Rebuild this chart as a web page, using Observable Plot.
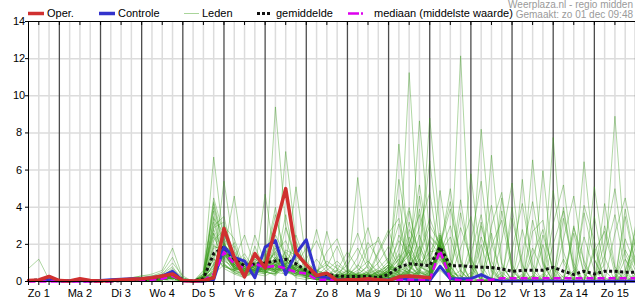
<!DOCTYPE html>
<html>
<head>
<meta charset="utf-8">
<script src="https://cdn.jsdelivr.net/npm/d3@7"></script>
<script src="https://cdn.jsdelivr.net/npm/@observablehq/plot@0.6"></script>
<style>
  html, body { margin: 0; padding: 0; background: #fff; overflow: hidden; }
  #wrap { position: relative; width: 635px; height: 300px; }
  #chart { position: absolute; left: 0; top: 0; }
  #legend { position: absolute; left: 0; top: 0; width: 635px; height: 19px; font: 11px "Liberation Sans", Arial, sans-serif; color: #000; }
  #legend span { position: absolute; white-space: nowrap; line-height: 11px; }
  #legend svg { position: absolute; top: 0; left: 0; }
  #legend .src { font-size: 10px; line-height: 10px; color: #9a9a9a; right: 2px; }
</style>
</head>
<body>
<div id="wrap">
<div id="chart"></div>
<div id="legend">
  <svg width="635" height="19">
    <line x1="28" y1="13.5" x2="44" y2="13.5" stroke="#d03030" stroke-width="3.5"/>
    <line x1="99" y1="13.5" x2="115" y2="13.5" stroke="#3333cc" stroke-width="3.5"/>
    <line x1="184" y1="13.5" x2="199" y2="13.5" stroke="#a9d59a" stroke-width="1"/>
    <line x1="257" y1="13.5" x2="272" y2="13.5" stroke="#111" stroke-width="3" stroke-dasharray="3,2"/>
    <line x1="348" y1="13.5" x2="365" y2="13.5" stroke="#dd00ee" stroke-width="2.5" stroke-dasharray="11,2,2,2"/>
  </svg>
  <span style="left:47px;top:8px">Oper.</span>
  <span style="left:118px;top:8px">Controle</span>
  <span style="left:202px;top:8px">Leden</span>
  <span style="left:276px;top:8px">gemiddelde</span>
  <span style="left:374px;top:8px">mediaan (middelste waarde)</span>
  <span class="src" style="top:0px">Weerplaza.nl - regio midden</span>
  <span class="src" style="top:10px">Gemaakt: zo 01 dec 09:48</span>
</div>
</div>
<script>
// ---- data (mm per 6 uur, stappen van 6 uur vanaf zo 1 dec 06:00) ----
const dayLabels = ["Zo 1","Ma 2","Di 3","Wo 4","Do 5","Vr 6","Za 7","Zo 8","Ma 9","Di 10","Wo 11","Do 12","Vr 13","Za 14","Zo 15"];
const yTicks = [0, 2, 4, 6, 8, 10, 12, 14];

const oper = [0.05,0.08,0.27,0.05,0.03,0.15,0.05,0.03,0.05,0.1,
  0.12,0.15,0.2,0.3,0.4,0.05,0.03,0.05,0.2,2.85,
  1.3,0.25,1.5,0.73,2.9,5.0,1.55,0.9,0.32,0.45,
  0.05,0.1,0.1,0.15,0.1,0.05,0.25,0.3,0.25,0.2];

const controle = [0.05,0.05,0.1,0.03,0.03,0.05,0.03,0.05,0.1,0.12,
  0.15,0.15,0.2,0.3,0.55,0.05,0.02,0.02,0.1,1.85,
  1.3,1.1,0.2,1.85,2.2,0.38,1.5,2.25,0.3,0.2,
  0.1,0.08,0.05,0.05,0.05,0.1,0.18,0.1,0.05,0.05,
  0.82,0.15,0.15,0.15,0.37,0.1,0.03,0.03,0.03,0.03,
  0.03,0.03,0.02,0.02,0.02,0.02,0.02,0.02,0.02,0.02];

const gemiddelde = [0.05,0.08,0.1,0.03,0.02,0.05,0.02,0.02,0.03,0.05,
  0.08,0.1,0.15,0.25,0.45,0.08,0.02,0.15,1.5,1.85,
  1.2,0.85,0.95,1.0,1.1,1.2,0.95,0.6,0.37,0.4,
  0.3,0.27,0.27,0.27,0.2,0.38,0.77,0.95,0.9,0.85,
  1.85,0.85,0.85,0.8,0.77,0.75,0.68,0.55,0.6,0.6,
  0.6,0.77,0.55,0.38,0.55,0.4,0.55,0.55,0.5,0.5];

const mediaan = [0,0,0,0,0,0,0,0,0,0.05,
  0.08,0.1,0.1,0.15,0.3,0.03,0,0.05,0.4,1.58,
  0.95,0.7,0.95,0.77,0.85,0.7,0.5,0.43,0.1,0.1,
  0.05,0.05,0.05,0.05,0.05,0.05,0.1,0.1,0.1,0.1,
  1.67,0.15,0.05,0.05,0.05,0.1,0.18,0.18,0.18,0.18,
  0.18,0.18,0.18,0.18,0.18,0.18,0.18,0.18,0.18,0.18];

const leden = [
 [0.7,1.2,0.1,0,0,0.1,0,0,0,0, 0.1,0.1,0.2,0.3,0.5,0.1,0,0.3,6.7,2.1, 1.0,0.5,1.2,0.8,2.5,1.4,0.6,0.3,0.2,0.1, 0.4,0.2,0.1,0,0.3,0.5,1.2,0.3,0,0.2, 1.5,0.4,0,0,0.1,0,0,0.3,0,0, 0,0.8,0.2,0,0,0,0.1,0,0.4,0.1],
 [0,0.1,0.3,0,0,0.1,0,0,0,0.1, 0.2,0.3,0.4,0.6,1.8,0.2,0,0.5,4.5,2.5, 1.3,0.4,0.7,1.5,0.9,0.3,1.8,0.5,0.1,0.3, 0.2,0.6,0.3,0.1,0,0.8,0.3,2.4,1.0,0.2, 1.8,0.1,0,0.5,0.2,0,0,0,0.1,0, 0,0,0.3,0.1,6.45,1.2,0,0,0,0.2],
 [0,0,0.2,0,0,0.2,0,0,0,0, 0.1,0.2,0.3,0.5,1.3,0.1,0,0.2,4.2,1.6, 0.6,1.2,0.4,0.9,1.6,2.2,0.8,0.4,0.6,0.2, 0.1,0,0.2,0.4,0.1,0,0.6,3.8,1.2,0.4, 2.0,0.3,0,0,0,0.2,0,0,0,0, 0.4,0,0,0,0,0.3,0.9,8.9,1.5,0.3],
 [0,0,0.1,0,0,0,0,0,0,0.1, 0.1,0.2,0.2,0.4,1.0,0.3,0,0.6,3.8,1.2, 2.1,0.3,0.5,0.4,1.1,0.6,0.3,0.9,0.4,0.1, 0,0.1,0,0.2,0.5,1.1,0.4,0.2,0,0.1, 2.5,0.6,4.4,0.8,0.1,0,0,0.2,0,0, 0,0,0.1,0.6,0,0,0,0.2,0,0],
 [0,0,0.2,0,0,0.1,0,0,0.1,0.1, 0.2,0.3,0.3,0.4,0.8,0,0,0.1,3.5,0.9, 0.5,0.2,1.9,0.6,0.3,1.0,0.4,0.2,0.1,0, 0.1,0.3,0.9,0.4,0.2,0,0.1,0.4,1.8,6.5, 1.9,0.1,0,0.3,0,0,0.5,0,0,0, 0,0,0,0,0.2,0.1,0,0,0,0],
 [0,0,0.1,0,0,0,0,0,0,0, 0.1,0.1,0.2,0.2,0.6,0.1,0,0.2,3.0,3.5, 1.1,0.8,0.4,1.3,0.5,2.9,1.1,0.3,0.2,0.4, 0.2,0.1,0.3,0.2,0.1,0.4,0.2,0.1,0.5,0.3, 1.7,5.0,1.1,0,0,0.2,0,0,0,0.3, 0.1,0,0,0,0,0,0.2,0,0,0],
 [0,0,0,0,0,0,0,0,0,0, 0,0.1,0.1,0.3,0.4,0,0,0.4,2.6,1.4, 0.9,1.5,0.6,0.4,1.8,0.8,0.2,0.1,0.3,0.5, 0.2,0.1,0.4,0.8,0.3,0.1,0.2,0.6,0.3,0.1, 2.1,0.3,0,0.2,3.2,0.6,0,0,0.4,0, 0,0,0,0.2,0,0,0,0,0.5,2.2],
 [0,0,0.1,0,0,0,0,0,0,0, 0.1,0.1,0.2,0.3,0.7,0.2,0,0.3,2.2,2.8, 0.7,0.3,0.9,0.5,0.4,1.6,0.9,0.5,0.2,0.1, 0.3,0.2,0.1,0.3,0.5,0.2,7.4,1.5,0.3,0, 1.6,0.2,0.6,0,0,0,0.8,0.1,0,0, 0.3,0,0,0,0,0,0,0.1,0,0],
 [0,0,0,0,0,0,0,0,0,0.1, 0.1,0.1,0.1,0.2,0.5,0.1,0,0.2,1.8,1.9, 1.6,0.6,0.3,0.8,0.5,0.4,0.7,0.2,0.1,0.2, 0.1,0,0.2,0.1,0.1,0.3,0.5,11.25,2.0,0.6, 1.4,0.2,0,0,0,0,0,0.1,0.3,0, 0,0,1.2,0.1,0,0,0,0,0,0],
 [0,0,0.1,0,0,0.1,0,0,0,0, 0,0.1,0.2,0.3,0.6,0,0,0.1,1.5,1.0, 0.4,0.2,0.6,1.1,4.0,0.7,0.4,0.3,0.2,0.1, 0.1,0.2,0.3,0.2,0.6,0.3,0.2,0.5,8.65,2.5, 1.8,0.1,0,0,0.1,0,0,0,0,0.2, 0,0,0,0,0,0,0,0,0.3,0],
 [0,0,0,0,0,0,0,0,0,0, 0,0.1,0.1,0.2,0.4,0.1,0,0.1,1.2,0.8, 0.6,0.3,0.4,0.3,0.6,7.0,2.2,0.6,0.3,0.2, 0.2,0.4,0.2,0.1,0,0.1,0.3,0.2,0.6,8.8, 2.8,0.3,0,0,0,0.1,0,0,0,0, 0,0,0,0,0,0,0,0,0,0],
 [0,0,0.1,0,0,0,0,0,0,0, 0.1,0.1,0.2,0.3,0.5,0.1,0,0,1.0,1.3, 0.8,0.4,0.5,0.7,9.4,3.0,1.2,0.4,0.2,0.1, 0,0.1,0.2,0.1,0.2,0.4,0.6,0.3,0.2,0.4, 1.6,0.4,12.15,1.0,0.1,0,0,0,0,0, 0,0.2,0,0,0,0,0,0,0,0.4],
 [0,0,0.2,0,0,0.1,0,0,0,0, 0.1,0.2,0.2,0.2,0.3,0,0,0.2,0.8,5.4, 1.7,0.5,1.0,0.6,0.9,0.5,0.3,0.2,0.1,0.1, 0.1,0,0.1,0.2,0.1,0.3,0.9,0.4,0.1,0.1, 2.2,0.2,0,0,8.2,2.1,0.3,0,0,0, 0,0,0,0,0,0,0,0.3,0,0],
 [0,0,0,0,0,0,0,0,0,0, 0,0,0.1,0.2,0.3,0.1,0,0.1,0.6,3.0, 2.3,0.7,0.3,0.9,1.5,0.4,0.8,0.6,2.8,0.7, 0.2,0.1,0.3,0.5,0.3,0.4,0.2,0.8,0.3,0.1, 1.7,0,0,0.2,0,6.8,1.0,0,0,0, 0.2,0,0,0,0,0,0,0,0,0],
 [0,0,0.1,0,0,0,0,0,0,0, 0,0.1,0.1,0.2,0.4,0.1,0,0.3,0.7,2.0, 1.2,2.5,0.8,0.4,1.1,0.6,0.4,0.3,0.3,2.7, 0.6,0.2,0.4,0.3,0.2,0.5,0.3,0.2,0.1,0.2, 0.6,0.1,0,0,0,0,0.3,0,0,6.55, 1.0,0,0,0,0,0,0,0,0,0.3],
 [0,0,0,0,0,0,0,0,0,0, 0,0,0.1,0.1,0.3,0,0,0.1,0.5,1.6, 4.6,0.9,0.6,0.5,0.4,1.2,0.5,0.2,0.2,0.1, 0.3,0.4,0.2,0.2,0.4,0.2,0.1,0.3,0.2,0.5, 2.0,0.2,0,0.1,0,0,0,0,0,0, 5.97,0.8,0,0,0,0.2,0,0,0,0],
 [0,0,0.1,0,0,0,0,0,0,0.1, 0.1,0.1,0.2,0.2,0.4,0.1,0,0.2,0.4,0.9, 0.5,0.3,0.6,4.7,1.1,0.6,0.3,0.5,0.2,0.3, 0.1,0.2,0.1,0.2,0.3,0.6,0.3,0.1,0.2,0.2, 1.8,0.1,0,0,0,0,0,0,0.2,0.1, 0,7.75,1.0,0,0,0,0,0,0,0],
 [0,0,0,0,0,0,0,0,0,0, 0,0,0.1,0.1,0.2,0,0,0.1,0.3,1.7, 0.9,0.6,0.8,0.8,0.6,0.9,5.1,1.1,0.5,0.2, 0.1,0.1,0.3,0.3,0.2,0.1,0.2,0.5,0.3,0.2, 1.2,0.3,0,0,0,0,0,0,0,0, 0,0,0,0,0,0,0,0,0,0],
 [0,0,0.1,0,0,0,0,0,0,0, 0,0.1,0.1,0.2,0.3,0,0,0,0.7,1.6, 0.8,0.4,2.5,1.0,3.6,1.3,0.7,0.4,0.3,0.1, 0.2,0.1,0.1,0.4,0.2,0.2,0.4,0.6,0.2,0.3, 1.6,0,0,0.2,0,0,4.5,0.6,0,0, 0,0,0,0,0,0,0,0,0.2,0],
 [0,0,0,0,0,0,0,0,0,0, 0,0,0.1,0.2,0.4,0.1,0,0.2,0.9,1.9, 1.1,0.6,0.9,0.5,0.7,3.6,0.9,0.6,0.4,0.3, 0.3,0.2,5.6,1.1,0.4,0.2,0.3,0.4,0.1,0, 2.1,0.2,0,0,0,0,0,4.0,0.5,0, 0,0,0,0,0,0,0,0,0,0],
 [0,0,0.1,0,0,0,0,0,0,0, 0.1,0.1,0.1,0.2,0.3,0,0,0.1,0.6,1.8, 0.9,0.7,1.2,0.8,0.5,0.8,2.5,0.9,0.6,0.4, 0.2,0.3,0.4,1.8,2.2,0.9,0.4,0.1,0.2,0.1, 1.7,0.3,0,0,0,0,0,0,5.5,0.4, 0,0,0,0.1,0,0,0,0,0,0],
 [0,0,0,0,0,0,0,0,0,0, 0,0,0.1,0.1,0.2,0,0,0.1,0.4,1.7, 1.0,0.8,0.6,1.2,0.9,0.7,1.0,0.6,0.6,0.9, 0.5,0.3,0.4,0.2,1.5,2.6,3.4,0.9,0.3,0.5, 1.8,0.4,0,0,0,0,0,0,0,0, 0,0,4.0,0.7,0,0,0,0,0,0],
 [0,0,0.1,0,0,0,0,0,0,0, 0,0.1,0.1,0.2,0.3,0,0,0.2,0.5,1.6, 0.7,0.9,0.5,1.1,0.8,0.6,0.9,0.4,0.1,0.2, 0.9,0.5,0.2,0.6,0.3,0.8,0.4,0.3,0.5,0.2, 1.9,0.6,0.2,5.8,0.9,0,0,0,0,0, 0,0,0,3.0,0.4,0,0,0,0,0],
 [0,0,0,0,0,0,0,0,0,0, 0,0,0.1,0.1,0.2,0,0,0,0.3,2.0, 1.2,0.5,0.9,0.7,1.3,0.8,0.6,0.4,0.4,0.2, 0.1,0.2,0.4,0.3,0.2,0.4,0.2,0.9,3.9,1.2, 1.6,0,0,0,0,0,0,0,0,0.3, 0,0,0,0,0,3.5,0.6,0,0,0],
 [0,0,0.1,0,0,0,0,0,0,0, 0,0,0.1,0.1,0.3,0,0,0.1,0.5,1.5, 0.8,1.1,0.7,0.6,0.9,1.2,0.6,0.5,0.3,0.1, 0.2,0.1,0.2,0.2,0.1,0.3,0.6,0.4,0.2,0.3, 2.3,0.8,0.1,0,0,0,0,0,0,0, 0,0,0,0,0,0,4.2,0.8,0,0],
 [0,0,0,0,0,0,0,0,0,0, 0,0,0.1,0.1,0.2,0,0,0,0.3,1.7, 1.0,0.6,1.3,0.9,0.7,0.5,0.8,0.4,0.2,0.1, 0.1,0,0.1,0.1,0.2,0.4,2.5,1.5,0.4,0.1, 1.4,0.2,0,0,0,0,0,0,0,0, 0,0,0,0,0,0,0,0,3.5,0.8],
 [0,0,0,0,0,0,0,0,0,0, 0,0,0,0.1,0.2,0,0,0,0.2,1.6, 0.9,0.4,0.8,1.0,0.6,0.9,0.7,0.3,0.2,0.3, 0.2,0.1,0.2,0.3,0.2,0.2,0.4,0.2,0.6,0.4, 2.0,0.3,0,0,0,0,0,0,0,0, 0,0,0,0,0,0,0,0,0,3.0],
 [0,0,0.1,0,0,0,0,0,0,0, 0,0,0.1,0.1,0.2,0,0,0.1,0.2,1.8, 1.3,0.7,0.6,0.8,1.0,0.6,0.9,0.5,0.1,0.1, 0.1,0.2,0.1,0,0.1,0.2,0.3,0.5,0.4,0.6, 1.7,0.5,0.3,0,0,0,0,0,0,0, 0,0,0,0,0,0,0,0,0,0],
 [0,0,0,0,0,0,0,0,0,0, 0,0,0,0,0.1,0,0,0,0.2,1.4, 0.8,0.5,1.1,0.6,0.8,0.7,0.5,0.6,0.1,0, 0,0.1,0,0.1,0,0.1,0.2,0.3,0.1,0.2, 1.9,0.4,0,0,0,0,0,0,0,0, 0,0,0,0,0,0,0,0,0,0],
 [0,0,0,0,0,0,0,0,0,0, 0,0,0.1,0.1,0.3,0,0,0.1,0.4,2.1, 1.1,0.9,0.7,0.6,1.2,0.8,0.7,0.4,0.1,0.1, 0,0.1,0.1,0.2,0.3,0.6,1.2,2.0,0.8,0.5, 4.9,1.2,0.3,0,2.4,0.8,0,0,0,1.8, 0.5,0,0,2.6,0.4,0,0,0,1.2,0.3],
 [0,0,0,0,0,0,0,0,0,0, 0,0,0.1,0.2,0.2,0,0,0,0.3,1.6, 0.9,1.0,0.5,0.8,0.6,1.1,0.6,0.4,0.2,0.1, 0.1,0.2,0.3,0.4,0.7,1.3,3.1,0.8,4.6,1.0, 1.8,0,0,1.5,3.6,0.5,0,0,2.8,0.6, 0,0,0,0,0,1.6,2.7,0.4,0,0],
 [0,0,0,0,0,0,0,0,0,0, 0,0,0,0.1,0.2,0,0,0,0.3,1.9, 0.6,0.8,1.0,0.7,0.9,0.6,0.4,0.7,0.1,0.2, 0.3,0.1,0.2,0.2,0.4,0.9,0.5,2.8,1.7,0.4, 1.5,3.0,0.6,0,0,0,0,3.4,0.9,0, 0,2.0,3.8,0.5,0,0,0,0,0,1.9],
 [0,0,0,0,0,0,0,0,0,0, 0,0,0.1,0.1,0.2,0,0,0.1,0.3,1.7, 1.0,0.7,0.8,0.6,1.1,0.9,0.5,0.6,0.1,0.2, 0.2,0.4,0.2,0.3,0.2,0.4,4.4,1.0,0.3,0, 2.4,0,0,0,0,3.0,4.8,0.7,0,0, 0,0,0,0,2.4,0.6,0,0,0,0],
 [0,0,0,0,0,0,0,0,0,0, 0,0,0,0.1,0.1,0,0,0,0.2,1.5, 0.7,0.6,0.9,0.8,0.7,1.0,0.8,0.5,0.2,0.1, 0.1,0,0.1,0.2,0.1,0.2,0.3,0.6,1.4,3.0, 2.0,4.3,1.0,0,0,0,0,0,0,2.7, 3.3,0.4,0,0,0,0,0,0,0,0],
 [0,0,0,0,0,0,0,0,0,0, 0,0,0.1,0.1,0.2,0,0,0.1,0.3,1.8, 1.2,0.8,0.6,0.9,0.5,0.7,0.9,0.6,0.2,0.4, 0.6,0.3,0.2,0.1,0.3,0.5,0.7,1.8,5.2,1.6, 1.7,0.2,1.8,3.5,0.6,0,0,0,0,0, 0,0,0,0,3.7,1.2,0,0,2.3,0.8],
 [0,0,0,0,0,0,0,0,0,0, 0,0,0.1,0.1,0.2,0,0,0,0.2,1.6, 0.9,0.5,0.7,1.0,0.6,0.8,0.6,0.7,0.3,0.2, 0.2,0.1,0.3,0.4,0.2,0.3,0.5,0.3,0.2,0.3, 1.6,0.5,0,0,1.4,4.1,0.9,0,0,0, 0,0,0,0,0,0,0,2.6,4.5,1.8],
 [0,0,0,0,0,0,0,0,0,0, 0,0,0.1,0.1,0.3,0,0,0.2,1.2,0.9, 0.6,0.4,0.9,1.4,0.8,0.5,0.4,1.2,2.2,0.9, 0.4,0.3,0.6,1.1,0.5,0.9,2.2,1.3,0.5,0.3, 1.9,0.6,2.9,1.2,0,0,0,0,1.5,4.3, 1.1,0,0,0,0,0,0,0,1.7,0.6],
 [0,0,0,0,0,0,0,0,0,0, 0,0,0.1,0.2,0.4,0.1,0,0.4,2.4,1.3, 0.5,1.1,0.7,0.5,1.9,1.1,0.6,0.3,0.4,1.6, 2.3,0.7,0.3,0.2,0.6,0.4,1.0,3.2,0.9,1.6, 2.6,0.3,0,0,0,0,2.2,5.3,0.8,0, 0,0,0,2.9,1.1,0,0,0,0,0],
 [0,0,0,0,0,0,0,0,0,0, 0,0,0.1,0.1,0.2,0,0,0.1,1.6,0.7, 0.4,0.6,1.5,0.8,0.6,1.7,1.4,0.8,0.5,0.3, 0.2,1.2,2.6,0.9,0.3,0.6,1.4,0.5,2.5,0.7, 1.5,2.4,0.5,0,0,0,0,0,0,0, 0,3.1,5.2,1.0,0,0,1.4,3.6,0.6,0],
 [0,0,0,0,0,0,0,0,0,0, 0,0,0.1,0.1,0.3,0,0,0.3,3.2,1.1, 0.8,0.9,0.5,1.7,1.2,0.6,0.8,0.5,0.3,0.6, 1.1,0.5,0.2,0.4,1.6,2.8,0.9,1.6,0.5,2.2, 1.4,0,0,2.1,5.4,1.1,0,0,0,0, 2.5,0.7,0,0,0,0,0,0,0,2.8],
 [0,0,0,0,0,0,0,0,0,0, 0,0,0,0.1,0.2,0,0,0.2,2.0,1.4, 1.9,0.6,0.4,0.9,1.6,0.9,2.1,0.6,0.3,0.2, 0.4,0.9,1.8,0.7,0.3,0.5,1.8,4.0,1.1,0.3, 2.0,0.4,0,0,0,1.9,3.3,0.6,0,0, 0,0,2.3,4.6,0.9,0,0,0,0,0],
 [0,0,0,0,0,0,0,0,0,0, 0,0,0.1,0.1,0.2,0,0,0.1,1.3,2.3, 1.4,0.5,0.6,0.5,0.4,0.7,0.9,1.8,0.6,0.4, 0.2,0.3,0.8,2.1,1.2,0.4,0.6,2.0,3.6,0.8, 1.6,0,0,0,3.0,0.7,0,0,0,0, 0,0,0,0,0,5.1,1.3,0,0,1.5],
 [0,0,0,0,0,0,0,0,0,0, 0,0,0.1,0.2,0.3,0,0,0.3,2.8,1.5, 0.7,0.8,1.4,0.7,0.5,0.9,0.6,0.4,1.2,0.5, 0.3,0.2,0.5,0.3,0.2,0.6,0.8,1.4,2.9,4.8, 1.2,0.3,3.7,0.8,0,0,0,0,0,3.3, 0.9,0,0,0,0,0,3.0,0.7,0,0],
 [0,0,0,0,0,0,0,0,0,0, 0,0,0,0.1,0.2,0,0,0.1,0.9,1.2, 0.6,1.3,0.5,1.0,0.7,1.4,0.5,0.3,0.2,0.1, 0.6,1.6,0.7,0.3,0.5,0.9,5.5,2.1,0.6,0.2, 2.3,0.8,0,0,0,0,0,1.7,4.2,0.9, 0,0,0,0,0,0,0,0,0.6,2.4],
 [0,0,0,0,0,0,0,0,0,0, 0,0,0.1,0.1,0.3,0,0,0.2,1.9,1.7, 0.8,0.4,0.9,0.6,2.1,0.8,0.4,0.6,0.3,0.8, 1.9,0.6,0.3,0.2,0.4,0.7,0.5,0.9,1.5,3.4, 1.9,3.9,1.2,0,0,0,0,0,0,0, 0,0,0,0,4.1,2.2,0,0,0,0],
 [0,0,0,0,0,0,0,0,0,0, 0,0,0.1,0.1,0.2,0,0,0.2,2.6,0.8, 0.6,0.7,0.8,1.1,0.9,0.6,1.3,0.9,0.4,0.3, 0.2,0.4,1.3,2.9,0.8,0.3,0.9,0.6,1.2,0.7, 1.7,0.5,0,0,0,2.6,0,0,0,0, 0,4.9,1.6,0,0,0,0,0,0,0],
 [0,0,0,0,0,0,0,0,0,0, 0,0,0.1,0.1,0.3,0,0,0.4,4.0,1.8, 0.9,0.5,0.6,0.8,0.4,1.0,0.6,0.4,0.5,1.1, 0.7,0.4,0.3,0.5,1.0,1.9,0.8,0.4,0.7,1.3, 2.5,0.9,0,1.3,0,0,0,0,0,0, 0,0,0,0,0,0,2.1,5.0,1.2,0],
 [0,0,0,0,0,0,0,0,0,0, 0,0,0.1,0.1,0.2,0,0,0.2,3.4,2.6, 1.1,0.7,0.5,0.6,1.3,0.7,0.5,0.3,0.2,0.4, 0.3,0.6,0.4,0.2,0.3,0.5,1.5,0.8,0.4,2.4, 1.8,0,0,0,0,0,3.8,0.9,0,0, 2.0,0,0,0,0,0,0,0,0,0],
 [0,0,0,0,0,0,0,0,0,0, 0,0,0.1,0.1,0.2,0,0,0.3,4.3,2.0, 1.3,0.8,0.6,0.5,0.9,1.1,0.7,0.5,0.3,0.2, 0.4,0.2,0.3,0.9,2.4,1.0,0.6,1.7,0.8,0.5, 1.6,0.4,0,0,2.0,0,0,0,0,1.4, 2.8,0.5,0,0,0,0,0,0,0,0],
 [0,0,0,0,0,0,0,0,0,0, 0,0,0.1,0.2,0.3,0,0,0.3,2.9,3.2, 0.7,0.6,1.0,0.9,0.6,0.8,0.5,0.3,0.3,0.2, 0.2,0.5,0.3,0.4,0.3,0.8,0.7,0.5,1.9,0.6, 1.9,0.3,0,0,0,0,0,0,0,0, 0,0,3.4,0.8,0,1.8,0,0,3.9,0.9]
];

// ---- time axis ----
const START = Date.UTC(2024, 11, 1, 6);
const STEP = 6 * 3600 * 1000;
const T = i => new Date(START + i * STEP);
const N = 60;
const idx = d3.range(N);

const series = (arr) => arr.map((v, i) => ({t: T(i), v}));
const ledenRows = leden.flatMap((arr, m) => arr.map((v, i) => ({t: T(i), v, m})));

const lightTicks = idx.filter(i => i > 0 && i % 4 !== 3).map(T);
const midnights = idx.filter(i => i % 4 === 3).map(T);
const noons = idx.filter(i => i % 4 === 1).map(T);
const top12 = idx.filter(i => i % 2 === 1).map(T);
const sixTicks = idx.map(T);
const dayLabel = d => dayLabels[Math.round((d - T(1)) / (4 * STEP))];

const chart = Plot.plot({
  width: 635,
  height: 300,
  marginTop: 21,
  marginBottom: 19,
  marginLeft: 28,
  marginRight: 0,
  style: {fontFamily: "'Liberation Sans', Arial, sans-serif", fontSize: "11px", color: "#000", background: "#fff"},
  x: {type: "utc", domain: [T(0), T(N - 1)], label: null},
  y: {domain: [0, 14], label: null},
  marks: [
    Plot.ruleY(yTicks.filter(v => v > 0 && v < 14), {stroke: "#dcdcdc", strokeWidth: 1.5}),
    Plot.ruleX(lightTicks, {stroke: "#dcdcdc", strokeWidth: 1.5}),
    Plot.ruleX(midnights, {stroke: "#4d4d4d", strokeWidth: 1.3}),
    Plot.line(ledenRows, {x: "t", y: "v", z: "m", stroke: "#3a9a1c", strokeOpacity: 0.4, strokeWidth: 1}),
    Plot.line(series(gemiddelde), {x: "t", y: "v", stroke: "#111", strokeWidth: 3, strokeDasharray: "3,2.5", strokeLinecap: "butt"}),
    Plot.line(series(controle), {x: "t", y: "v", stroke: "#3333cc", strokeWidth: 3}),
    Plot.line(series(mediaan), {x: "t", y: "v", stroke: "#dd00ee", strokeWidth: 2.5, strokeDasharray: "7,4", strokeLinecap: "butt"}),
    Plot.line(series(oper), {x: "t", y: "v", stroke: "#d03030", strokeWidth: 3.5}),
    Plot.ruleY([0, 14], {stroke: "#000"}),
    Plot.ruleX([T(0)], {stroke: "#000"}),
    Plot.axisY({ticks: yTicks, tickSize: 3, tickPadding: 6.5, textAnchor: "middle", tickFormat: d => String(d)}),
    Plot.axisX({ticks: sixTicks, tickSize: 4, fill: "none"}),
    Plot.axisX({ticks: noons, tickSize: 0, tickPadding: 8, tickFormat: dayLabel}),
    Plot.axisX({ticks: top12, anchor: "top", tickSize: -3, fill: "none"})
  ]
});
document.getElementById("chart").appendChild(chart);
</script>
</body>
</html>
